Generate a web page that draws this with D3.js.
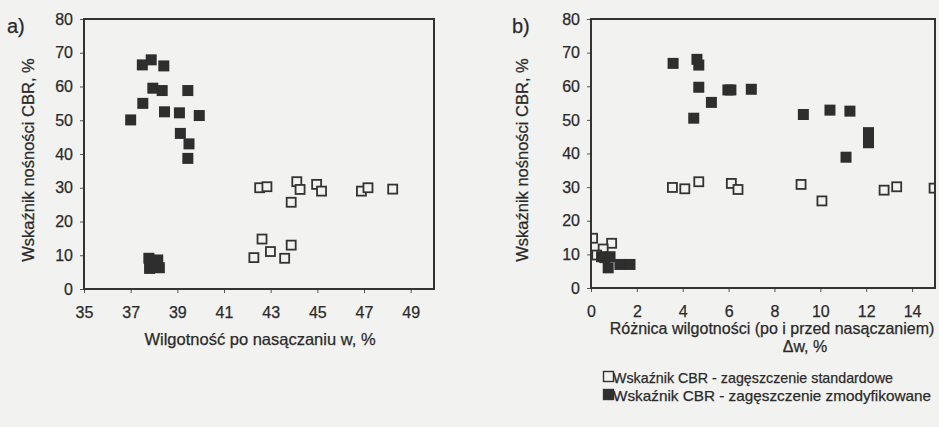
<!DOCTYPE html>
<html>
<head>
<meta charset="utf-8">
<script src="https://d3js.org/d3.v7.min.js"></script>
<style>
    body {
        margin: 0;
        background-color: #f2f2f0;
    }
    text {
        font-family: "Liberation Sans", Arial, sans-serif;
        fill: #2a2a2a;
        stroke: #2a2a2a;
        stroke-width: 0.25px;
    }
    .axis path, .axis line {
        stroke: #555;
    }
    .frame {
        fill: none;
        stroke: #333;
        stroke-width: 2px;
    }
</style>
</head>
<body>
<svg width="939" height="427"></svg>
<script>

    // panel a) - x: wilgotnosc po nasaczaniu
    var aStdX = [42.53, 42.84, 44.12, 44.26, 43.88, 44.97, 45.18, 46.89, 47.17, 48.23, 42.63, 42.28, 42.99, 43.6, 43.88];
    var aStdY = [30.0, 30.3, 31.8, 29.5, 25.7, 31.0, 29.0, 29.0, 30.0, 29.6, 14.8, 9.3, 11.1, 9.1, 13.0];
    var aModX = [37.0, 37.52, 37.5, 37.88, 38.42, 37.95, 38.35, 38.45, 39.09, 39.45, 39.94, 39.13, 39.5, 39.45, 37.78, 38.16, 37.81, 38.23];
    var aModY = [50.1, 55.0, 66.4, 67.9, 66.1, 59.5, 58.8, 52.5, 52.2, 58.8, 51.4, 46.1, 43.0, 38.7, 9.1, 8.6, 6.1, 6.3];

    // panel b) - x: roznica wilgotnosci
    var bStdX = [3.55, 4.09, 4.7, 6.12, 6.41, 9.16, 10.07, 12.78, 13.33, 14.96, 0.07, 0.9, 0.53, 0.25, 0.6];
    var bStdY = [29.9, 29.5, 31.6, 31.1, 29.3, 30.8, 25.9, 29.1, 30.1, 29.7, 14.8, 13.3, 11.6, 9.8, 9.0];
    var bModX = [3.58, 4.62, 4.7, 4.7, 4.48, 5.25, 5.97, 6.1, 6.99, 9.26, 10.42, 11.29, 11.12, 12.1, 12.1, 0.46, 0.83, 0.75, 1.26, 1.7];
    var bModY = [66.8, 68.0, 66.3, 59.7, 50.5, 55.2, 58.9, 58.9, 59.1, 51.6, 52.9, 52.6, 38.9, 46.2, 43.2, 9.3, 9.3, 6.0, 7.0, 7.0];

    var aTicksX = [35, 37, 39, 41, 43, 45, 47, 49];
    var bTicksX = [0, 2, 4, 6, 8, 10, 12, 14];
    var ticksY = [0, 10, 20, 30, 40, 50, 60, 70, 80];

    var legendLabels = ["Wskaźnik CBR - zagęszczenie standardowe", "Wskaźnik CBR - zagęszczenie zmodyfikowane"];

    var svg = d3.select("svg");

    function zip(xs, ys) {
        return xs.map(function (d, i) { return [d, ys[i]]; });
    }

    function drawPanel(opt) {
        var x = d3.scaleLinear().domain(opt.xDomain).range([opt.left, opt.right]);
        var y = d3.scaleLinear().domain([0, 80]).range([opt.bottom, opt.top]);
        var g = svg.append("g");

        g.append("clipPath").attr("id", opt.id + "clip")
            .append("rect")
            .attr("x", opt.left).attr("y", opt.top)
            .attr("width", opt.right - opt.left).attr("height", opt.bottom - opt.top);

        g.append("g")
            .attr("class", "axis")
            .attr("transform", "translate(" + opt.left + ",0)")
            .call(d3.axisLeft(y).tickValues(ticksY).tickSize(4).tickPadding(7))
            .call(function (s) {
                s.select(".domain").remove();
                s.selectAll("text").style("font-size", "16px");
            });

        g.append("g")
            .attr("class", "axis")
            .attr("transform", "translate(0," + opt.bottom + ")")
            .call(d3.axisBottom(x).tickValues(opt.xTicks).tickSize(4).tickPadding(14))
            .call(function (s) {
                s.select(".domain").remove();
                s.selectAll("text").style("font-size", "16px");
            });

        var pts = g.append("g").attr("clip-path", "url(#" + opt.id + "clip)");

        pts.selectAll(".std")
            .data(zip(opt.stdX, opt.stdY))
            .enter().append("rect")
            .attr("class", "std")
            .attr("x", function (d) { return x(d[0]) - 4.5; })
            .attr("y", function (d) { return y(d[1]) - 4.5; })
            .attr("width", 9).attr("height", 9)
            .attr("fill", "#f2f2f0")
            .attr("stroke", "#333")
            .attr("stroke-width", 1.8);

        pts.selectAll(".mod")
            .data(zip(opt.modX, opt.modY))
            .enter().append("rect")
            .attr("class", "mod")
            .attr("x", function (d) { return x(d[0]) - 5.5; })
            .attr("y", function (d) { return y(d[1]) - 5.5; })
            .attr("width", 11).attr("height", 11)
            .attr("fill", "#2e2e2e");

        g.append("rect")
            .attr("class", "frame")
            .attr("x", opt.left).attr("y", opt.top)
            .attr("width", opt.right - opt.left).attr("height", opt.bottom - opt.top);

        g.append("text")
            .attr("x", opt.labelX).attr("y", 33)
            .style("font-size", "20px")
            .text(opt.id + ")");

        g.append("text")
            .attr("transform", "translate(" + opt.yTitleX + ",160) rotate(-90)")
            .attr("text-anchor", "middle")
            .style("font-size", "16.5px")
            .text("Wskaźnik nośności CBR, %");

        opt.xTitle.forEach(function (t) {
            g.append("text")
                .attr("x", t.x).attr("y", t.y)
                .attr("text-anchor", "middle")
                .style("font-size", t.size)
                .text(t.text);
        });
    }

    drawPanel({
        id: "a", left: 84, right: 434, top: 19, bottom: 289,
        xDomain: [35, 50], xTicks: aTicksX,
        stdX: aStdX, stdY: aStdY, modX: aModX, modY: aModY,
        labelX: 7, yTitleX: 34,
        xTitle: [{x: 260, y: 345, size: "16.5px", text: "Wilgotność po nasączaniu w, %"}]
    });

    drawPanel({
        id: "b", left: 591, right: 935, top: 19, bottom: 288,
        xDomain: [0, 15], xTicks: bTicksX,
        stdX: bStdX, stdY: bStdY, modX: bModX, modY: bModY,
        labelX: 512, yTitleX: 528,
        xTitle: [{x: 772, y: 334, size: "16px", text: "Różnica wilgotności (po i przed nasączaniem)"},
                 {x: 805, y: 352, size: "16px", text: "Δw, %"}]
    });

    // legend
    var legendWidths = [280, 318];
    var legend = svg.append("g").attr("transform", "translate(603,370)");
    legend.selectAll("rect")
        .data(legendLabels)
        .enter().append("rect")
        .attr("x", 0.5)
        .attr("y", function (d, i) { return i * 18 + 1.5; })
        .attr("width", 10).attr("height", 10)
        .attr("fill", function (d, i) { return i ? "#2e2e2e" : "#f2f2f0"; })
        .attr("stroke", "#333")
        .attr("stroke-width", 1.4);
    legend.selectAll("text")
        .data(legendLabels)
        .enter().append("text")
        .attr("x", 10)
        .attr("y", function (d, i) { return i * 18 + 12.5; })
        .attr("textLength", function (d, i) { return legendWidths[i]; })
        .attr("lengthAdjust", "spacingAndGlyphs")
        .style("font-size", "15px")
        .text(function (d) { return d; });

</script>
</body>
</html>
